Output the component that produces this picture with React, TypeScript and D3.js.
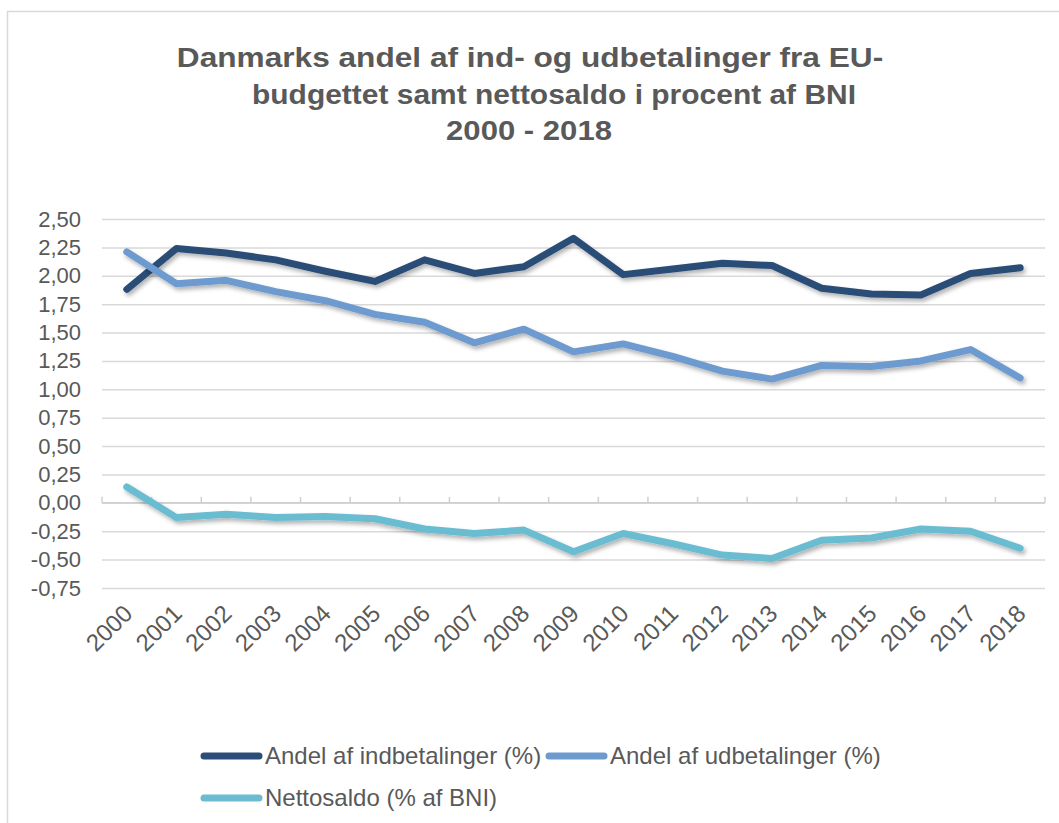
import React, { useEffect, useRef } from 'react';
import * as d3 from 'd3';

const years = ['2000', '2001', '2002', '2003', '2004', '2005', '2006', '2007', '2008', '2009',
  '2010', '2011', '2012', '2013', '2014', '2015', '2016', '2017', '2018'];

const indbetalinger = [1.88, 2.24, 2.2, 2.14, 2.04, 1.95, 2.14, 2.02, 2.08, 2.33,
  2.01, 2.06, 2.11, 2.09, 1.89, 1.84, 1.83, 2.02, 2.07];
const udbetalinger = [2.21, 1.93, 1.96, 1.86, 1.78, 1.66, 1.59, 1.41, 1.53, 1.33,
  1.4, 1.29, 1.16, 1.09, 1.21, 1.2, 1.25, 1.35, 1.1];
const nettosaldo = [0.14, -0.13, -0.1, -0.13, -0.12, -0.14, -0.23, -0.27, -0.24, -0.43,
  -0.27, -0.36, -0.46, -0.49, -0.33, -0.31, -0.23, -0.25, -0.4];

const yTicks = [-0.75, -0.5, -0.25, 0, 0.25, 0.5, 0.75, 1, 1.25, 1.5, 1.75, 2, 2.25, 2.5];

const titleLines = [
  'Danmarks andel af ind- og udbetalinger fra EU-',
  'budgettet samt nettosaldo i procent af BNI',
  '2000 - 2018',
];

const seriesNames = ['Andel af indbetalinger (%)', 'Andel af udbetalinger (%)', 'Nettosaldo (% af BNI)'];
const seriesColors = ['#2c4d78', '#6e9bcf', '#6bbcd1'];

const W = 1059;
const H = 823;
const FONT = '"Liberation Sans", Arial, sans-serif';
const GRAY = '#595959';

const App = () => {
  const ref = useRef<SVGSVGElement | null>(null);

  useEffect(() => {
    const root = d3.select(ref.current);
    root.selectAll('*').remove();

    const margin = { top: 219, left: 102, right: 14, bottom: 235 };
    const plotW = W - margin.left - margin.right;
    const plotH = H - margin.top - margin.bottom;

    // drop shadow for the lines
    const defs = root.append('defs');
    const filter = defs.append('filter').attr('id', 'shadow')
      .attr('x', '-5%').attr('y', '-20%').attr('width', '110%').attr('height', '140%');
    filter.append('feDropShadow')
      .attr('dx', 2).attr('dy', 3).attr('stdDeviation', 2)
      .attr('flood-color', '#000').attr('flood-opacity', 0.3);

    root.append('rect').attr('width', W).attr('height', H).attr('fill', '#fff');
    // chart area border
    root.append('rect')
      .attr('x', 7.5).attr('y', 11.5).attr('width', W + 20).attr('height', H + 20)
      .attr('fill', 'none').attr('stroke', '#d9d9d9').attr('stroke-width', 1.5);

    // title (the original is drawn a bit wider than Arial)
    const titleX = [530, 554, 529];
    const titleSX = [1.13, 1.07, 1.11];
    root.append('g').selectAll('text').data(titleLines).enter().append('text')
      .attr('transform', (_, i) => `translate(${titleX[i]},${67 + i * 36.5}) scale(${titleSX[i]},1)`)
      .attr('text-anchor', 'middle')
      .attr('font-family', FONT).attr('font-weight', 'bold').attr('font-size', 28)
      .attr('fill', GRAY)
      .text(d => d);

    const svg = root.append('g').attr('transform', `translate(${margin.left},${margin.top})`);

    const x = d3.scaleBand().domain(years).range([0, plotW]);
    const y = d3.scaleLinear().domain([-0.75, 2.5]).range([plotH, 0]);

    // gridlines
    svg.append('g')
      .call(d3.axisLeft(y).tickValues(yTicks).tickSize(-plotW).tickFormat(() => ''))
      .call(g => g.select('.domain').remove())
      .call(g => g.selectAll('line').attr('stroke', '#d9d9d9').attr('stroke-width', 1.5));

    // y labels
    svg.append('g')
      .call(d3.axisLeft(y).tickValues(yTicks).tickSize(0).tickPadding(21)
        .tickFormat(d => d3.format('.2f')(d as number).replace('.', ',').replace('−', '-')))
      .call(g => g.select('.domain').remove())
      .call(g => g.selectAll('text')
        .attr('font-family', FONT).attr('font-size', 22).attr('fill', GRAY));

    // x axis at zero, ticks pointing up
    const xAxis = svg.append('g').attr('transform', `translate(0,${y(0)})`);
    xAxis.append('line').attr('x1', 0).attr('x2', plotW)
      .attr('stroke', '#d0d0d0').attr('stroke-width', 1.5);
    xAxis.selectAll('.tk').data(d3.range(years.length + 1)).enter().append('line')
      .attr('x1', i => i * x.step()).attr('x2', i => i * x.step())
      .attr('y1', 0).attr('y2', -6)
      .attr('stroke', '#d0d0d0').attr('stroke-width', 1.5);

    // x labels
    svg.append('g').selectAll('text').data(years).enter().append('text')
      .attr('transform', d => `translate(${(x(d) as number) + x.bandwidth() / 2 + 7},${plotH + 27}) rotate(-45)`)
      .attr('text-anchor', 'end')
      .attr('font-family', FONT).attr('font-size', 24).attr('fill', GRAY)
      .text(d => d);

    const line = d3.line<number>()
      .x((_, i) => (x(years[i]) as number) + x.bandwidth() / 2)
      .y(d => y(d));

    [indbetalinger, udbetalinger, nettosaldo].forEach((s, i) => {
      svg.append('path')
        .datum(s)
        .attr('fill', 'none')
        .attr('stroke', seriesColors[i])
        .attr('stroke-width', 7)
        .attr('stroke-linejoin', 'round')
        .attr('stroke-linecap', 'round')
        .attr('filter', 'url(#shadow)')
        .attr('d', line);
    });

    // legend
    const legendPos = [[204, 756], [549, 756], [204, 798]];
    const legend = root.append('g');
    seriesNames.forEach((name, i) => {
      const [lx, ly] = legendPos[i];
      legend.append('line')
        .attr('x1', lx).attr('x2', lx + 55).attr('y1', ly).attr('y2', ly)
        .attr('stroke', seriesColors[i]).attr('stroke-width', 7).attr('stroke-linecap', 'round');
      legend.append('text')
        .attr('x', lx + 61).attr('y', ly).attr('dy', '0.35em')
        .attr('font-family', FONT).attr('font-size', 24).attr('fill', GRAY)
        .text(name);
    });
  }, []);

  return (
    <svg ref={ref} width={W} height={H}
      style={{ position: 'absolute', left: 0, top: 0, display: 'block' }} />
  );
};

export default App;
